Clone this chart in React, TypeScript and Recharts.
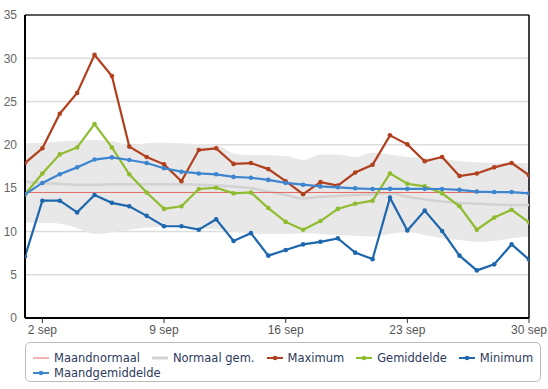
import React from "react";
import {
  ComposedChart,
  Line,
  Area,
  XAxis,
  YAxis,
  CartesianGrid,
  ReferenceLine,
} from "recharts";

const days = [1,2,3,4,5,6,7,8,9,10,11,12,13,14,15,16,17,18,19,20,21,22,23,24,25,26,27,28,29,30];
const maximum = [17.9,19.6,23.6,26.0,30.4,27.95,19.8,18.6,17.75,15.8,19.4,19.6,17.8,17.9,17.2,15.8,14.3,15.7,15.3,16.8,17.7,21.1,20.06,18.1,18.6,16.4,16.7,17.4,17.9,16.5];
const gemiddelde = [14.3,16.7,18.9,19.7,22.4,19.7,16.6,14.5,12.6,12.9,14.9,15.05,14.4,14.5,12.7,11.1,10.2,11.2,12.6,13.2,13.55,16.7,15.5,15.2,14.4,12.9,10.2,11.6,12.5,11.05];
const minimum = [7.1,13.55,13.55,12.2,14.2,13.3,12.9,11.8,10.6,10.6,10.2,11.4,8.9,9.8,7.2,7.85,8.5,8.8,9.2,7.55,6.8,13.9,10.1,12.4,10.05,7.2,5.5,6.2,8.5,6.75];
const maandgemiddelde = [14.3,15.6,16.6,17.4,18.3,18.55,18.25,17.9,17.3,16.9,16.7,16.6,16.3,16.2,15.95,15.6,15.4,15.2,15.1,14.98,14.9,14.92,14.92,14.92,14.9,14.8,14.6,14.55,14.55,14.4];
const maandnormaal = 14.5;
const normaalGem = [15.75,15.6,15.5,15.4,15.4,15.45,15.45,15.45,15.45,15.45,15.4,15.3,15.2,15.0,14.6,14.2,13.8,14.0,14.1,14.2,14.3,14.4,14.0,13.7,13.45,13.3,13.2,13.1,13.05,13.05];
const bandHigh = [20.2,20.25,20.4,20.5,20.55,20.45,20.0,20.2,20.25,20.2,20.1,20.0,19.0,18.8,18.8,18.7,18.25,18.9,18.9,18.6,19.1,18.9,18.6,18.5,18.4,18.1,18.0,17.9,17.9,17.9];
const bandLow = [11.0,11.0,10.9,10.4,9.7,9.9,10.2,10.45,10.55,10.45,10.35,10.25,10.0,9.8,9.7,9.7,9.8,9.7,9.6,9.5,9.4,9.7,10.0,9.6,9.2,9.0,8.8,8.9,9.2,9.4];
const xTicks = [2, 9, 16, 23, 30];
const yTicks = [0, 5, 10, 15, 20, 25, 30, 35];
const monthLabel = "sep";

const C_MAX = "#b0401e";
const C_GEM = "#8fbc2f";
const C_MIN = "#1f67ad";
const C_MGEM = "#3d85cf";
const C_NORM = "#e06a60";
const C_NGEM = "#d2d2d2";

const data = days.map((d, i) => ({
  day: d,
  band: [bandLow[i], bandHigh[i]],
  normaalGem: normaalGem[i],
  maandnormaal: maandnormaal,
  maximum: maximum[i],
  gemiddelde: gemiddelde[i],
  minimum: minimum[i],
  maandgemiddelde: maandgemiddelde[i],
}));

const legendItems = [
  [
    { label: "Maandnormaal", color: C_NORM, width: 1, dot: false },
    { label: "Normaal gem.", color: C_NGEM, width: 3, dot: false },
    { label: "Maximum", color: C_MAX, width: 2, dot: true },
    { label: "Gemiddelde", color: C_GEM, width: 2, dot: true },
    { label: "Minimum", color: C_MIN, width: 2, dot: true },
  ],
  [{ label: "Maandgemiddelde", color: C_MGEM, width: 2, dot: true }],
];

const Sym = ({ color, width, dot }: { color: string; width: number; dot: boolean }) => (
  <svg width={16} height={10} style={{ display: "block" }}>
    <line x1={0} x2={16} y1={5} y2={5} stroke={color} strokeWidth={width} />
    {dot && <circle cx={8} cy={5} r={2.3} fill={color} />}
  </svg>
);

const dot = (c: string) => ({ r: 2.3, fill: c, stroke: c, strokeWidth: 0 });

export default function App() {
  return (
    <div style={{ position: "absolute", left: 0, top: 0, width: 548, height: 389, background: "#fff" }}>
      <ComposedChart
        width={548}
        height={389}
        data={data}
        margin={{ top: 15, right: 19, left: 0, bottom: 41 }}
      >
        <CartesianGrid horizontal vertical={false} stroke="#dcdcdc" strokeWidth={1.5} />
        <XAxis
          dataKey="day"
          type="number"
          domain={[1, 30]}
          ticks={xTicks}
          tickFormatter={(d: number) => `${d} ${monthLabel}`}
          height={30}
          axisLine={{ stroke: "#000", strokeWidth: 2 }}
          tickLine={{ stroke: "#333" }}
          tickSize={5}
          tickMargin={2}
          tick={{ fill: "#555", fontSize: 12, fontFamily: "Liberation Sans, Arial, sans-serif" }}
          interval={0}
          allowDataOverflow
        />
        <YAxis
          domain={[0, 35]}
          ticks={yTicks}
          width={25}
          axisLine={{ stroke: "#000", strokeWidth: 2 }}
          tickLine={false}
          tick={{ fill: "#666", fontSize: 12, fontFamily: "Liberation Sans, Arial, sans-serif" }}
          interval={0}
        />
        <ReferenceLine y={35} stroke="#5a5a5a" strokeWidth={2} />
        <ReferenceLine x={30} stroke="#000" strokeWidth={1.5} />
        <Area
          dataKey="band"
          type="monotone"
          stroke="none"
          fill="#e8e8e8"
          fillOpacity={1}
          isAnimationActive={false}
          activeDot={false}
        />
        <Line dataKey="normaalGem" type="monotone" stroke={C_NGEM} strokeWidth={2.5} dot={false} isAnimationActive={false} />
        <Line dataKey="maandnormaal" type="linear" stroke={C_NORM} strokeWidth={1} dot={false} isAnimationActive={false} />
        <Line dataKey="maximum" type="linear" stroke={C_MAX} strokeWidth={2.2} dot={dot(C_MAX)} isAnimationActive={false} />
        <Line dataKey="gemiddelde" type="linear" stroke={C_GEM} strokeWidth={2.2} dot={dot(C_GEM)} isAnimationActive={false} />
        <Line dataKey="minimum" type="linear" stroke={C_MIN} strokeWidth={2.2} dot={dot(C_MIN)} isAnimationActive={false} />
        <Line dataKey="maandgemiddelde" type="linear" stroke={C_MGEM} strokeWidth={2.2} dot={dot(C_MGEM)} isAnimationActive={false} />
      </ComposedChart>
      <div
        style={{
          position: "absolute",
          left: 25,
          top: 342,
          width: 516,
          height: 40,
          border: "1px solid #bcbcbc",
          borderRadius: 5,
          boxSizing: "border-box",
          fontFamily: "DejaVu Sans, Verdana, sans-serif",
          fontSize: 11.5,
          color: "#2c3a5c",
          paddingLeft: 7,
          paddingTop: 7,
        }}
      >
        {legendItems.map((row, ri) => (
          <div key={ri} style={{ display: "flex", alignItems: "center", height: 15 }}>
            {row.map((it) => (
              <div key={it.label} style={{ display: "flex", alignItems: "center", marginRight: 12 }}>
                <Sym color={it.color} width={it.width} dot={it.dot} />
                <span style={{ marginLeft: 5, whiteSpace: "nowrap" }}>{it.label}</span>
              </div>
            ))}
          </div>
        ))}
      </div>
    </div>
  );
}
